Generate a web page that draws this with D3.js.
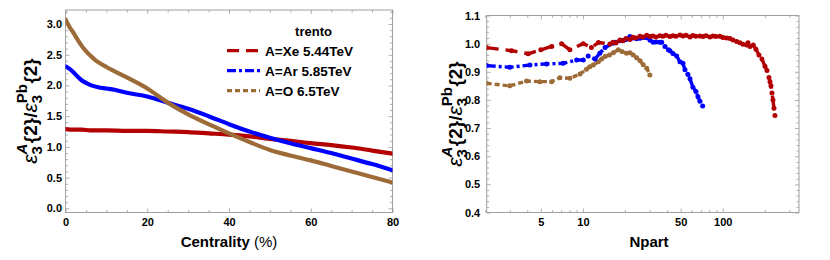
<!DOCTYPE html>
<html><head><meta charset="utf-8">
<script src="https://cdn.jsdelivr.net/npm/d3@7"></script>
<style>
body{margin:0;background:#fff}
svg{display:block}
text{font-family:"Liberation Sans",Arial,Helvetica,sans-serif}
</style>
</head><body>
<svg id="c" width="830" height="260"></svg>
<script>
// ---------------- DATA ----------------
// Left panel: ratio vs centrality (%)
const centXe = [0,2,4,6,8,10,15,20,25,30,35,40,45,50,55,60,65,70,75,80];
const xeLeft = [1.29,1.28,1.28,1.27,1.27,1.27,1.26,1.26,1.25,1.24,1.22,1.20,1.17,1.13,1.10,1.06,1.03,0.99,0.94,0.89];
const centAr = [0,1,2,3,4,6,8,10,12,15,20,25,30,35,40,45,50,55,60,65,70,75,80];
const arLeft = [2.31,2.27,2.21,2.14,2.08,2.01,1.97,1.95,1.93,1.88,1.82,1.72,1.62,1.50,1.37,1.25,1.15,1.06,0.98,0.90,0.81,0.72,0.62];
const centO = [0,1,2,3,4,5,6,7,8,10,12,15,20,25,30,35,40,45,50,55,60,65,70,75,80];
const oLeft = [3.07,2.95,2.85,2.74,2.64,2.56,2.49,2.43,2.38,2.30,2.23,2.13,1.95,1.72,1.53,1.37,1.22,1.08,0.95,0.86,0.78,0.69,0.60,0.51,0.42];

// Right panel: ratio vs Npart
const npXe = [2.05,3.09,4.06,5.0,5.97,7.04,8.07,10.05,11.5,12.9,15.6,16.4,17.2,18.4,19.3,20.3,21.7,22.8,23.9,25.6,26.9,28.6,30.2,31.7,33.3,35.5,37.3,39.2,41.9,44.0,46.3,49.4,51.9,54.6,58.3,61.2,64.3,68.7,72.2,75.8,81.0,85.1,89.4,95.5,100.3,106.6,112.6,118.3,125.7,132.7,139.5,148.3,151.5,156.5,165.3,172.8,181.5,190.8,200.4,207.1,214.0,217.6,221.2,224.8,228.6,232.4,236.2];
const xeRight = [0.986,0.975,0.964,0.978,0.990,1.000,0.978,1.000,0.986,1.004,0.999,1.005,1.002,1.013,1.010,1.018,1.015,1.023,1.020,1.026,1.024,1.030,1.025,1.027,1.024,1.028,1.026,1.030,1.025,1.028,1.026,1.031,1.027,1.030,1.024,1.029,1.026,1.027,1.025,1.028,1.024,1.027,1.025,1.026,1.022,1.020,1.018,1.013,1.008,1.003,0.998,0.995,1.003,0.990,0.995,0.980,0.960,0.945,0.920,0.905,0.880,0.865,0.850,0.825,0.800,0.770,0.745];
const npAr = [2.05,3.0,4.18,5.49,7.22,9.02,10.05,10.9,12.2,13.2,14.4,16.5,17.2,18.4,19.4,20.3,21.7,22.8,24.2,25.6,26.9,28.6,30.2,31.8,33.3,35.5,36.6,38.6,40.8,41.9,44.0,46.8,49.4,51.9,53.7,56.4,58.3,61.2,64.3,66.5,68.7,71.8];
const arRight = [0.922,0.916,0.924,0.928,0.930,0.942,0.942,0.956,0.945,0.966,0.986,1.002,1.005,1.010,1.011,1.015,1.025,1.020,1.017,1.019,1.022,1.021,1.012,1.005,1.006,1.005,1.005,0.990,0.978,0.975,0.965,0.956,0.936,0.930,0.907,0.890,0.875,0.845,0.830,0.811,0.795,0.778];
const npO = [2.05,3.0,3.95,4.92,5.97,6.84,8.07,9.53,10.6,11.2,11.85,12.9,13.6,14.4,15.5,16.5,17.9,19.0,20.5,21.7,22.9,24.2,25.6,27.0,28.6,30.1];
const oRight = [0.859,0.850,0.867,0.865,0.865,0.879,0.877,0.892,0.909,0.918,0.924,0.936,0.945,0.954,0.960,0.968,0.978,0.972,0.966,0.968,0.960,0.950,0.939,0.925,0.913,0.889];

const seriesNames = ["A=Xe 5.44TeV","A=Ar 5.85TeV","A=O 6.5TeV"];
const legendTitle = "trento";
const leftXTicks = [0,20,40,60,80];
const leftYTicks = [0.0,0.5,1.0,1.5,2.0,2.5,3.0];
const rightXTicks = [5,10,50,100];
const rightXMinor = [2,3,4,6,7,8,9,20,30,40,60,70,80,90,200,300];
const rightYTicks = [0.4,0.5,0.6,0.7,0.8,0.9,1.0,1.1];

// ---------------- STYLE ----------------
const colXe = "#b30000", colAr = "#0000ff", colO = "#9d6b37";
const dashXe = "12,7", dashAr = "9,3,3,3", dashO = "5,3";
const frameCol = "#a0a0a0", tickCol = "#b0b0b0";

const svg = d3.select("#c");

function frame(box){
  svg.append("rect").attr("x",box.x0).attr("y",box.y0)
    .attr("width",box.x1-box.x0).attr("height",box.y1-box.y0)
    .attr("fill","none").attr("stroke",frameCol).attr("stroke-width",1);
}
function styleAxis(g, fontSize){
  g.select(".domain").remove();
  g.selectAll(".tick line").attr("stroke",tickCol).attr("stroke-width",1);
  g.selectAll(".tick text").attr("font-size",fontSize).attr("font-weight","bold").attr("fill","#000")
   .attr("font-family",'"Liberation Sans",Arial,sans-serif');
}
function axes(box, xs, ys, xMaj, xMin, yMaj, yMin, xFmt, yFmt, yPad){
  const M=4, m=2.5;
  let g;
  g = svg.append("g").attr("transform",`translate(0,${box.y1})`)
    .call(d3.axisBottom(xs).tickValues(xMaj).tickSize(-M).tickPadding(6).tickFormat(xFmt));
  styleAxis(g,11);
  g = svg.append("g").attr("transform",`translate(0,${box.y1})`)
    .call(d3.axisBottom(xs).tickValues(xMin).tickSize(-m).tickFormat(""));
  styleAxis(g,11);
  g = svg.append("g").attr("transform",`translate(0,${box.y0})`)
    .call(d3.axisTop(xs).tickValues(xMaj).tickSize(-M).tickFormat(""));
  styleAxis(g,11);
  g = svg.append("g").attr("transform",`translate(0,${box.y0})`)
    .call(d3.axisTop(xs).tickValues(xMin).tickSize(-m).tickFormat(""));
  styleAxis(g,11);
  g = svg.append("g").attr("transform",`translate(${box.x0},0)`)
    .call(d3.axisLeft(ys).tickValues(yMaj).tickSize(-M).tickPadding(yPad).tickFormat(yFmt));
  styleAxis(g,11);
  g = svg.append("g").attr("transform",`translate(${box.x0},0)`)
    .call(d3.axisLeft(ys).tickValues(yMin).tickSize(-m).tickFormat(""));
  styleAxis(g,11);
  g = svg.append("g").attr("transform",`translate(${box.x1},0)`)
    .call(d3.axisRight(ys).tickValues(yMaj).tickSize(-M).tickFormat(""));
  styleAxis(g,11);
  g = svg.append("g").attr("transform",`translate(${box.x1},0)`)
    .call(d3.axisRight(ys).tickValues(yMin).tickSize(-m).tickFormat(""));
  styleAxis(g,11);
  frame(box);
}

function yLabel(cx, cy){
  const g0 = svg.append("g").attr("transform",`translate(${cx},${cy}) rotate(-90)`);
  const g = g0.append("g");
  const parts = [
    {t:"ε", size:21, style:"italic", weight:"normal"},
    {stack:[{t:"A", size:15, style:"italic", weight:"bold", dy:-10},{t:"3", size:15, weight:"bold", dy:5}]},
    {t:"{2}/", size:19, weight:"bold"},
    {t:"ε", size:21, style:"italic", weight:"normal"},
    {stack:[{t:"Pb", size:15, weight:"bold", dy:-10},{t:"3", size:15, weight:"bold", dy:5}]},
    {t:"{2}", size:19, weight:"bold"}
  ];
  let x=0;
  const put = (p, dy) => g.append("text").attr("x",x).attr("y",dy||0)
      .attr("font-size",p.size).attr("font-weight",p.weight||"normal")
      .attr("font-style",p.style||"normal").attr("fill","#000").text(p.t);
  parts.forEach(p=>{
    if(p.stack){
      let w=0;
      p.stack.forEach(s=>{ const el=put(s,s.dy); w=Math.max(w, el.node().getComputedTextLength()); });
      x += w + 0.5;
    } else {
      const el = put(p,0); x += el.node().getComputedTextLength();
    }
  });
  g.attr("transform",`translate(${-x/2},0)`);
}

// ---------------- LEFT PANEL ----------------
const L = {x0:65.5, x1:392.5, y0:10, y1:212.5};
const xL = d3.scaleLinear().domain([0,80]).range([L.x0,L.x1]);
const yL = d3.scaleLinear().domain([-0.068,3.228]).range([L.y1,L.y0]);

const fmt1 = d3.format(".1f");
axes(L, xL, yL, leftXTicks, d3.range(5,80,5).filter(v=>v%20!==0),
     leftYTicks, d3.range(0,3.21,0.1).filter(v=>Math.abs(v*2-Math.round(v*2))>1e-6),
     d3.format("d"), fmt1, 3.5);

const clipL = svg.append("clipPath").attr("id","clipL").append("rect")
  .attr("x",L.x0).attr("y",L.y0).attr("width",L.x1-L.x0).attr("height",L.y1-L.y0);
const gL = svg.append("g").attr("clip-path","url(#clipL)");
const leftSeries = [
  {x:centXe, y:xeLeft, c:colXe},
  {x:centAr, y:arLeft, c:colAr},
  {x:centO, y:oLeft, c:colO}
];
leftSeries.forEach(s=>{
  const pts = s.x.map((v,i)=>[v,s.y[i]]);
  gL.append("path").datum(pts)
    .attr("d", d3.line().curve(d3.curveMonotoneX).x(d=>xL(d[0])).y(d=>yL(d[1])))
    .attr("fill","none").attr("stroke",s.c).attr("stroke-width",4.2)
    .attr("stroke-linejoin","round").attr("stroke-linecap","round");
});

// x label
const xlabL = svg.append("text").attr("x",(L.x0+L.x1)/2+0).attr("y",247).attr("text-anchor","middle")
  .attr("font-size",15).attr("fill","#000");
xlabL.append("tspan").attr("font-weight","bold").text("Centrality");
xlabL.append("tspan").attr("font-weight","normal").text(" (%)");

yLabel(36.5, 111);

// legend
svg.append("text").attr("x",313.5).attr("y",35.5).attr("text-anchor","middle")
  .attr("font-size",13).attr("font-weight","bold").attr("fill","#000").text(legendTitle);
const legCols = [colXe,colAr,colO], legDash = [dashXe,dashAr,dashO];
seriesNames.forEach((name,i)=>{
  const yy = 50.7 + i*20;
  svg.append("line").attr("x1",227).attr("x2",260).attr("y1",yy).attr("y2",yy)
    .attr("stroke",legCols[i]).attr("stroke-width",3.2).attr("stroke-dasharray",legDash[i]);
  svg.append("text").attr("x",265).attr("y",yy+4.8).attr("font-size",13.5)
    .attr("font-weight","bold").attr("fill","#000").text(name);
});

// ---------------- RIGHT PANEL ----------------
const R = {x0:486.7, x1:799, y0:15.5, y1:212.5};
const xR = d3.scaleLog().domain([2.05,351]).range([R.x0,R.x1]);
const yR = d3.scaleLinear().domain([0.4,1.1]).range([R.y1,R.y0]);

axes(R, xR, yR, rightXTicks, rightXMinor, rightYTicks,
     d3.range(0.42,1.1,0.02).filter(v=>Math.abs(v*10-Math.round(v*10))>1e-6),
     d3.format("d"), fmt1, 6.5);

const clipR = svg.append("clipPath").attr("id","clipR").append("rect")
  .attr("x",R.x0).attr("y",R.y0).attr("width",R.x1-R.x0).attr("height",R.y1-R.y0);
const gR = svg.append("g").attr("clip-path","url(#clipR)");
const rightSeries = [
  {x:npO, y:oRight, c:colO, d:dashO},
  {x:npAr, y:arRight, c:colAr, d:dashAr},
  {x:npXe, y:xeRight, c:colXe, d:dashXe}
];
rightSeries.forEach(s=>{
  const pts = s.x.map((v,i)=>[v,s.y[i]]);
  gR.append("path").datum(pts)
    .attr("d", d3.line().x(d=>xR(d[0])).y(d=>yR(d[1])))
    .attr("fill","none").attr("stroke",s.c).attr("stroke-width",3.4)
    .attr("stroke-dasharray",s.d).attr("stroke-linejoin","round");
  gR.selectAll(null).data(pts).enter().append("circle")
    .attr("cx",d=>xR(d[0])).attr("cy",d=>yR(d[1])).attr("r",2.5)
    .attr("fill",s.c);
});

svg.append("text").attr("x",649).attr("y",247).attr("text-anchor","middle")
  .attr("font-size",15).attr("font-weight","bold").attr("fill","#000").text("Npart");

yLabel(462, 114);
</script>
</body></html>
